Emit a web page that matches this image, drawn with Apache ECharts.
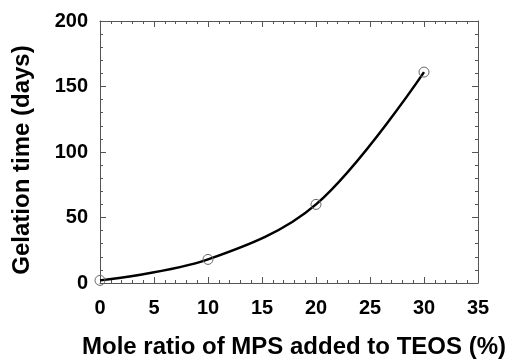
<!DOCTYPE html>
<html><head><meta charset="utf-8">
<script src="https://cdn.jsdelivr.net/npm/echarts@6/dist/echarts.min.js"></script>
<style>html,body{margin:0;padding:0;background:#fff}#c{width:514px;height:364px}</style>
</head><body><div id="c"></div>
<script>
const xValues = [0, 10, 20, 30];
const gelationDays = [2, 18, 60, 161];
const xTitle = 'Mole ratio of MPS added to TEOS (%)';
const yTitle = 'Gelation time (days)';

const chart = echarts.init(document.getElementById('c'), null, {renderer: 'canvas'});
const font = 'Liberation Sans, Arial, sans-serif';
const axisCommon = {
  axisLine: {onZero: false, lineStyle: {color: '#555', width: 1}},
  axisTick: {inside: true, length: 6, lineStyle: {color: '#555'}},
  minorTick: {show: true, splitNumber: 5, length: 3, lineStyle: {color: '#555'}},
  splitLine: {show: false}
};
const nameStyle = {fontFamily: font, fontWeight: 'bold', fontSize: 24, color: '#000'};
chart.setOption({
  animation: false,
  grid: {left: 100, right: 36, top: 21, bottom: 75, show: false},
  xAxis: [Object.assign({}, axisCommon, {
    type: 'value', min: 0, max: 35, interval: 5,
    name: xTitle, nameLocation: 'middle', nameGap: 52,
    nameTextStyle: Object.assign({padding: [0, 0, 0, 10]}, nameStyle),
    axisLabel: {fontFamily: font, fontWeight: 'bold', fontSize: 20, color: '#000', margin: 15}
  }), Object.assign({}, axisCommon, {
    type: 'value', min: 0, max: 35, interval: 5, position: 'top',
    axisLabel: {show: false}
  })],
  yAxis: [Object.assign({}, axisCommon, {
    type: 'value', min: 0, max: 200, interval: 50,
    name: yTitle, nameLocation: 'middle', nameGap: 66,
    nameTextStyle: Object.assign({padding: [0, 16, 0, 0]}, nameStyle),
    axisLabel: {fontFamily: font, fontWeight: 'bold', fontSize: 20, color: '#000', margin: 12}
  }), Object.assign({}, axisCommon, {
    type: 'value', min: 0, max: 200, interval: 50, position: 'right',
    axisLabel: {show: false}
  })],
  series: [{
    type: 'line',
    data: xValues.map((x, i) => [x, gelationDays[i]]),
    smooth: 0.35,
    symbol: 'circle', symbolSize: 10,
    itemStyle: {color: 'rgba(255,255,255,0)', borderColor: '#666', borderWidth: 1},
    lineStyle: {color: '#000', width: 2.5},
    z: 5
  }]
});
</script></body></html>
